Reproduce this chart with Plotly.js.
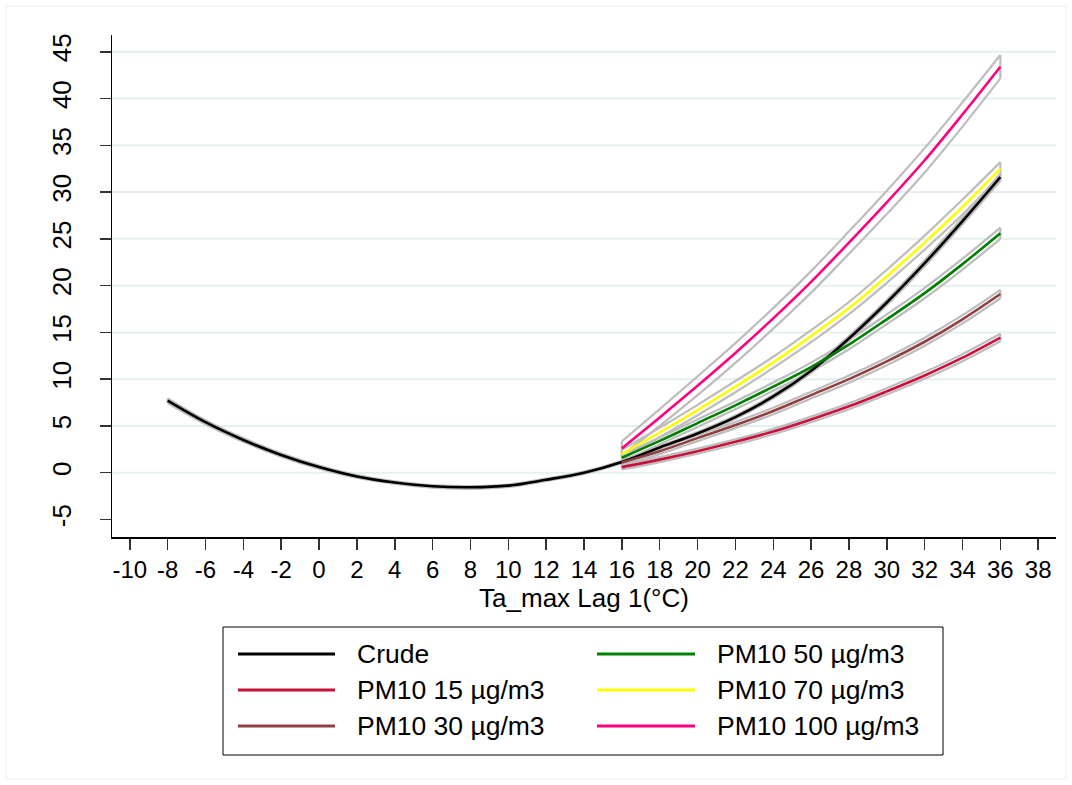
<!DOCTYPE html>
<html>
<head>
<meta charset="utf-8">
<script src="https://cdn.plot.ly/plotly-3.0.1.min.js"></script>
<style>html,body{margin:0;padding:0;background:#fff;}#chart{width:1072px;height:785px;}</style>
</head>
<body>
<div id="chart"></div>
<script>
// ---- data ----
const xCrude = [-8,-6,-4,-2,0,2,4,6,8,10,12,14,16,18,20,22,24,26,28,30,32,34,36];
const crude   = [7.7,5.4,3.5,1.9,0.6,-0.4,-1.05,-1.45,-1.55,-1.38,-0.75,0.0,1.15,2.7,4.2,5.95,8.15,10.9,14.35,18.2,22.4,26.9,31.6];
const crudeHi = [7.95,5.62,3.7,2.08,0.76,-0.26,-0.92,-1.33,-1.43,-1.26,-0.63,0.12,1.27,2.83,4.35,6.12,8.35,11.12,14.6,18.48,22.72,27.25,32.0];
const crudeLo = [7.45,5.18,3.3,1.72,0.44,-0.54,-1.18,-1.6,-1.72,-1.52,-0.88,-0.12,1.03,2.57,4.05,5.78,7.95,10.68,14.1,17.92,22.08,26.55,31.2];

const xPM = [16,18,20,22,24,26,28,30,32,34,36];
const pm15   = [0.6,1.4,2.3,3.3,4.4,5.7,7.1,8.7,10.4,12.3,14.45];
const pm15Hi = [0.85,1.66,2.57,3.58,4.69,6.0,7.42,9.04,10.76,12.68,14.85];
const pm15Lo = [0.35,1.14,2.03,3.02,4.11,5.4,6.78,8.36,10.04,11.92,14.05];
const pm30   = [1.1,2.3,3.7,5.1,6.6,8.3,10.0,11.9,14.0,16.4,19.1];
const pm30Hi = [1.4,2.61,4.02,5.43,6.95,8.66,10.38,12.3,14.42,16.84,19.55];
const pm30Lo = [0.8,1.99,3.38,4.77,6.25,7.94,9.62,11.5,13.58,15.96,18.65];
const pm50   = [1.6,3.4,5.3,7.2,9.2,11.3,13.7,16.4,19.2,22.3,25.6];
const pm50Hi = [1.95,3.77,5.7,7.62,9.64,11.77,14.2,16.92,19.75,22.88,26.2];
const pm50Lo = [1.25,3.03,4.9,6.78,8.76,10.83,13.2,15.88,18.65,21.72,25.0];
const pm70   = [2.0,4.3,6.7,9.2,11.8,14.6,17.6,21.0,24.6,28.4,32.5];
const pm70Hi = [2.45,4.8,7.25,9.8,12.4,15.25,18.25,21.7,25.35,29.2,33.2];
const pm70Lo = [1.55,3.8,6.15,8.6,11.2,13.95,16.95,20.3,23.85,27.6,31.8];
const pm100   = [2.6,5.9,9.3,12.8,16.5,20.4,24.6,28.9,33.4,38.3,43.4];
const pm100Hi = [3.35,6.8,10.3,13.85,17.6,21.55,25.8,30.15,34.7,39.6,44.65];
const pm100Lo = [1.85,5.0,8.3,11.75,15.4,19.25,23.4,27.65,32.1,37.0,42.15];

const seriesNames  = ["Crude","PM10 15 µg/m3","PM10 30 µg/m3","PM10 50 µg/m3","PM10 70 µg/m3","PM10 100 µg/m3"];
const seriesColors = ["#000000","#c8103c","#904040","#008000","#ffff00","#ff0080"];

const xTicks = [-10,-8,-6,-4,-2,0,2,4,6,8,10,12,14,16,18,20,22,24,26,28,30,32,34,36,38];
const yTicks = [-5,0,5,10,15,20,25,30,35,40,45];
const yGrid  = [0,5,10,15,20,25,30,35,40,45];
const xTitle = "Ta_max Lag 1(°C)";

// ---- build traces ----
const series = [
  {x:xCrude, y:crude, lo:crudeLo, hi:crudeHi},
  {x:xPM, y:pm15, lo:pm15Lo, hi:pm15Hi},
  {x:xPM, y:pm30, lo:pm30Lo, hi:pm30Hi},
  {x:xPM, y:pm50, lo:pm50Lo, hi:pm50Hi},
  {x:xPM, y:pm70, lo:pm70Lo, hi:pm70Hi},
  {x:xPM, y:pm100, lo:pm100Lo, hi:pm100Hi}
];
const FONT = "Arial, 'Liberation Sans', sans-serif";
const traces = [];
series.forEach((s, i) => {
  const n = s.x.length;
  const bx = [s.x[0], s.x[0], null].concat(s.x, [null], s.x, [null, s.x[n-1], s.x[n-1]]);
  const by = [s.lo[0], s.hi[0], null].concat(s.hi, [null], s.lo, [null, s.lo[n-1], s.hi[n-1]]);
  traces.push({type:'scatter', mode:'lines', x:bx, y:by, connectgaps:false,
    line:{color:'#bdbdbd', width:2.2, shape:'spline', smoothing:1},
    hoverinfo:'skip', showlegend:false});
});
series.forEach((s, i) => {
  traces.push({type:'scatter', mode:'lines', x:s.x, y:s.y, name:seriesNames[i],
    line:{color:seriesColors[i], width:2.6, shape:'spline', smoothing:1},
    showlegend:false});
});

// ---- geometry (pixels) ----
const W = 1072, H = 785;
const mL = 112, mR = 16, mT = 35, mB = 248;
const pw = W - mL - mR, ph = H - mT - mB;
const px = v => (v - mL) / pw;
const py = v => (H - mB - v) / ph;

const shapes = [];
yGrid.forEach(v => shapes.push({type:'line', xref:'paper', yref:'y', x0:0, x1:1, y0:v, y1:v,
  line:{color:'#e6eff1', width:2}, layer:'below'}));
shapes.push({type:'rect', xref:'paper', yref:'paper', x0:px(6), x1:px(1066), y0:py(6), y1:py(779),
  line:{color:'#ececec', width:1}, layer:'below'});
shapes.push({type:'rect', xref:'paper', yref:'paper', x0:px(223), x1:px(943), y0:py(627), y1:py(755),
  line:{color:'#000000', width:1}, fillcolor:'rgba(0,0,0,0)'});
const annotations = [];
const colX = [[238,335,355],[597,695,715]];
const rowY = [654,690,726];
const order = [[0,0,0],[1,0,1],[2,0,2],[3,1,0],[4,1,1],[5,1,2]];
order.forEach(([si, c, r]) => {
  shapes.push({type:'line', xref:'paper', yref:'paper', x0:px(colX[c][0]), x1:px(colX[c][1]),
    y0:py(rowY[r]), y1:py(rowY[r]), line:{color:seriesColors[si], width:3}});
  annotations.push({xref:'paper', yref:'paper', x:px(colX[c][2]), y:py(rowY[r]), xanchor:'left', yanchor:'middle',
    text:seriesNames[si], showarrow:false, font:{family:FONT, size:26.5, color:'#000'}});
});

const layout = {
  width:W, height:H, paper_bgcolor:'#ffffff', plot_bgcolor:'#ffffff',
  margin:{l:mL, r:mR, t:mT, b:mB, pad:0},
  showlegend:false,
  font:{family:FONT, color:'#000'},
  xaxis:{range:[-10.94, 38.94], tickvals:xTicks, ticktext:xTicks.map(String), showgrid:false, zeroline:false,
    showline:true, linecolor:'#000', linewidth:1.5, ticks:'outside', ticklen:11, tickwidth:1.5, tickcolor:'#333',
    tickfont:{family:FONT, size:24, color:'#000'}, tickangle:0,
    title:{text:xTitle, font:{family:FONT, size:26, color:'#000'}, standoff:0}},
  yaxis:{range:[-6.87, 46.79], tickvals:yTicks, ticktext:yTicks.map(String), showgrid:false, zeroline:false,
    showline:true, linecolor:'#000', linewidth:1.5, ticks:'outside', ticklen:11, tickwidth:1.5, tickcolor:'#333',
    tickfont:{family:FONT, size:26, color:'#000'}, tickangle:-90, ticklabelstandoff:18},
  shapes:shapes, annotations:annotations
};
Plotly.newPlot('chart', traces, layout, {displayModeBar:false, staticPlot:true});
</script>
</body>
</html>
